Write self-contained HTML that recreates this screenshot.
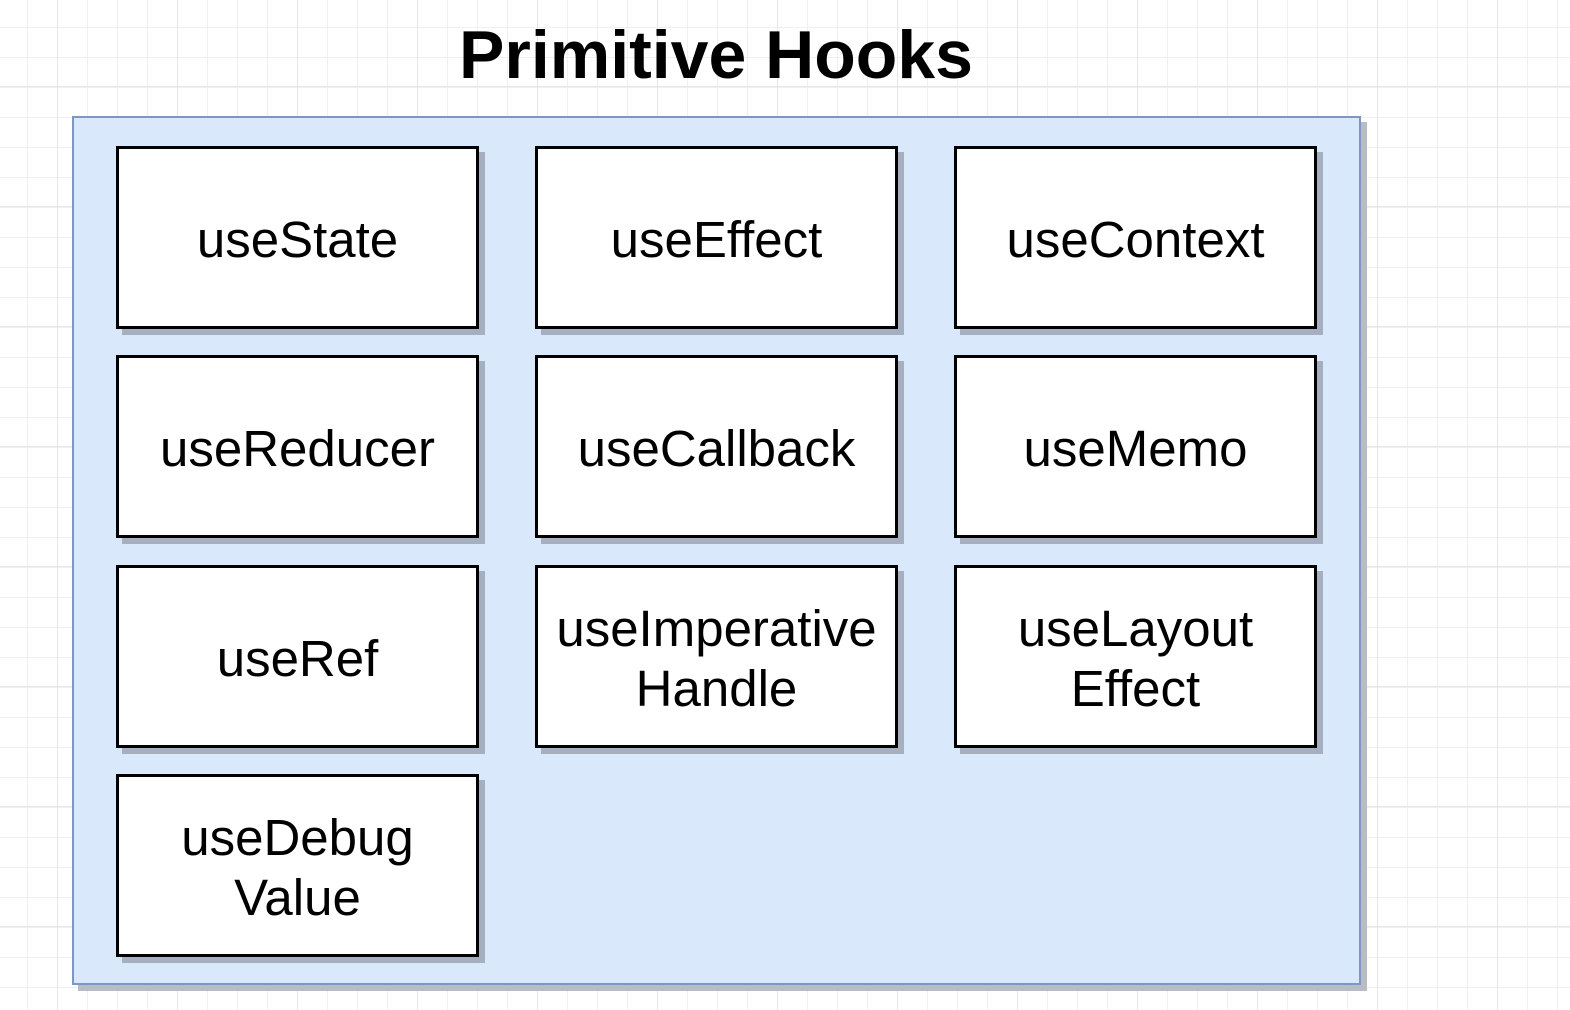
<!DOCTYPE html>
<html><head><meta charset="utf-8"><style>
html,body{margin:0;padding:0}
body{width:1570px;height:1010px;position:relative;overflow:hidden;background:#fff;
background-image:
linear-gradient(to right,#e6e6e6 1px,transparent 1px),
linear-gradient(to bottom,#e6e6e6 1px,transparent 1px),
linear-gradient(to right,#f0f0f0 1px,transparent 1px),
linear-gradient(to bottom,#f0f0f0 1px,transparent 1px);
background-size:120px 120px,120px 120px,30px 30px,30px 30px;
background-position:57px 86px,57px 86px,27px 27px,27px 27px;
font-family:"Liberation Sans",Arial,sans-serif;}
.title{position:absolute;left:0;width:1432px;top:16px;text-align:center;font-size:68px;font-weight:bold;color:#000;}
.cont{position:absolute;left:72px;top:116px;width:1285px;height:865px;background:#dae8fc;border:2px solid #7d97c4;box-shadow:6px 6px 0 #b8bcc4;}
.b{position:absolute;width:357px;height:177px;background:#fff;border:3px solid #000;box-shadow:6px 6px 0 #a6afc0;display:flex;align-items:center;justify-content:center;text-align:center;font-size:51px;line-height:60px;color:#000;box-sizing:content-box;padding-top:4px;height:173px}
.b span{display:block}
</style></head><body>
<div class="title">Primitive Hooks</div>
<div class="cont"></div>
<div class="b" style="left:116px;top:146px">useState</div>
<div class="b" style="left:535px;top:146px">useEffect</div>
<div class="b" style="left:954px;top:146px">useContext</div>
<div class="b" style="left:116px;top:355px">useReducer</div>
<div class="b" style="left:535px;top:355px">useCallback</div>
<div class="b" style="left:954px;top:355px">useMemo</div>
<div class="b" style="left:116px;top:565px">useRef</div>
<div class="b" style="left:535px;top:565px"><span>useImperative<br>Handle</span></div>
<div class="b" style="left:954px;top:565px"><span>useLayout<br>Effect</span></div>
<div class="b" style="left:116px;top:774px"><span>useDebug<br>Value</span></div>
</body></html>
